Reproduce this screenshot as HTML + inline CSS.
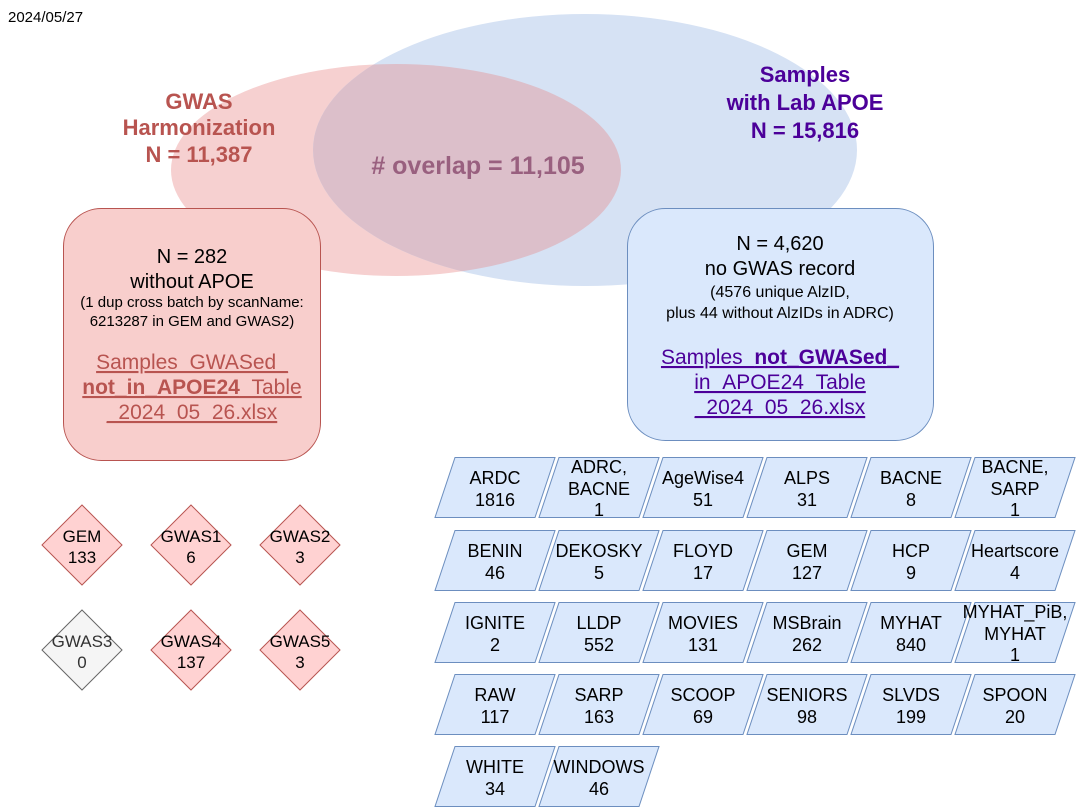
<!DOCTYPE html>
<html><head><meta charset="utf-8"><style>
html,body{margin:0;padding:0;background:#fff;}
svg{display:block;font-family:"Liberation Sans",Arial,sans-serif;}
</style></head><body>
<svg width="1076" height="807" viewBox="0 0 1076 807" xmlns="http://www.w3.org/2000/svg">
<defs>
<clipPath id="pc"><ellipse cx="396" cy="170" rx="225" ry="106"/></clipPath>
</defs>
<text x="8" y="22" font-size="15">2024/05/27</text>
<ellipse cx="396" cy="170" rx="225" ry="106" fill="#f6d0d0"/>
<ellipse cx="585" cy="150" rx="272" ry="136" fill="#d6e2f4"/>
<ellipse cx="585" cy="150" rx="272" ry="136" fill="#dcbfca" clip-path="url(#pc)"/>
<g font-weight="bold" text-anchor="middle">
<g font-size="22" fill="#b85450">
<text x="199" y="109">GWAS</text>
<text x="199" y="135">Harmonization</text>
<text x="199" y="162">N = 11,387</text>
</g>
<g font-size="22" fill="#4c0099">
<text x="805" y="82">Samples</text>
<text x="805" y="110">with Lab APOE</text>
<text x="805" y="138">N = 15,816</text>
</g>
<text x="478" y="174" fill="#99607f" font-size="25">#  overlap = 11,105</text>
</g>
<rect x="63.5" y="208.5" width="257" height="252" rx="38" fill="#f8cecc" stroke="#b85450"/>
<g text-anchor="middle">
<text x="192" y="263" font-size="20">N = 282</text>
<text x="192" y="288" font-size="20">without APOE</text>
<text x="192" y="307" font-size="15">(1 dup cross batch by scanName:</text>
<text x="192" y="326" font-size="15">6213287 in GEM and GWAS2)</text>
<g fill="#b85450" font-size="21" text-decoration="underline">
<text x="192" y="369">Samples_GWASed_</text>
<text x="192" y="394"><tspan font-weight="bold">not_in_APOE24</tspan>_Table</text>
<text x="192" y="419">_2024_05_26.xlsx</text>
</g>
</g>
<rect x="627.5" y="208.5" width="306" height="232" rx="38" fill="#dae8fc" stroke="#6c8ebf"/>
<g text-anchor="middle">
<text x="780" y="250" font-size="20">N = 4,620</text>
<text x="780" y="275" font-size="20">no GWAS record</text>
<text x="780" y="297" font-size="16">(4576 unique AlzID,</text>
<text x="780" y="318" font-size="16">plus 44 without AlzIDs in ADRC)</text>
<g fill="#4c0099" font-size="21" text-decoration="underline">
<text x="780" y="364">Samples_<tspan font-weight="bold">not_GWASed_</tspan></text>
<text x="780" y="389">in_APOE24_Table</text>
<text x="780" y="414">_2024_05_26.xlsx</text>
</g>
</g>
<g font-size="17" text-anchor="middle">
<polygon points="82,505 122,545 82,585 42,545" fill="#ffd2d2" stroke="#b85450"/>
<text x="82" y="542">GEM</text><text x="82" y="563">133</text>
<polygon points="191,505 231,545 191,585 151,545" fill="#ffd2d2" stroke="#b85450"/>
<text x="191" y="542">GWAS1</text><text x="191" y="563">6</text>
<polygon points="300,505 340,545 300,585 260,545" fill="#ffd2d2" stroke="#b85450"/>
<text x="300" y="542">GWAS2</text><text x="300" y="563">3</text>
<polygon points="82,610 122,650 82,690 42,650" fill="#f5f5f5" stroke="#666"/>
<text x="82" y="647" fill="#333">GWAS3</text><text x="82" y="668" fill="#333">0</text>
<polygon points="191,610 231,650 191,690 151,650" fill="#ffd2d2" stroke="#b85450"/>
<text x="191" y="647">GWAS4</text><text x="191" y="668">137</text>
<polygon points="300,610 340,650 300,690 260,650" fill="#ffd2d2" stroke="#b85450"/>
<text x="300" y="647">GWAS5</text><text x="300" y="668">3</text>
</g>
<g font-size="18" text-anchor="middle" fill="#000">
<g fill="#dae8fc" stroke="#6c8ebf">
<polygon points="455,457.5 555,457.5 535,517.5 435,517.5"/>
<polygon points="559,457.5 659,457.5 639,517.5 539,517.5"/>
<polygon points="663,457.5 763,457.5 743,517.5 643,517.5"/>
<polygon points="767,457.5 867,457.5 847,517.5 747,517.5"/>
<polygon points="871,457.5 971,457.5 951,517.5 851,517.5"/>
<polygon points="975,457.5 1075,457.5 1055,517.5 955,517.5"/>
<polygon points="455,530.5 555,530.5 535,590.5 435,590.5"/>
<polygon points="559,530.5 659,530.5 639,590.5 539,590.5"/>
<polygon points="663,530.5 763,530.5 743,590.5 643,590.5"/>
<polygon points="767,530.5 867,530.5 847,590.5 747,590.5"/>
<polygon points="871,530.5 971,530.5 951,590.5 851,590.5"/>
<polygon points="975,530.5 1075,530.5 1055,590.5 955,590.5"/>
<polygon points="455,602.5 555,602.5 535,662.5 435,662.5"/>
<polygon points="559,602.5 659,602.5 639,662.5 539,662.5"/>
<polygon points="663,602.5 763,602.5 743,662.5 643,662.5"/>
<polygon points="767,602.5 867,602.5 847,662.5 747,662.5"/>
<polygon points="871,602.5 971,602.5 951,662.5 851,662.5"/>
<polygon points="975,602.5 1075,602.5 1055,662.5 955,662.5"/>
<polygon points="455,674.5 555,674.5 535,734.5 435,734.5"/>
<polygon points="559,674.5 659,674.5 639,734.5 539,734.5"/>
<polygon points="663,674.5 763,674.5 743,734.5 643,734.5"/>
<polygon points="767,674.5 867,674.5 847,734.5 747,734.5"/>
<polygon points="871,674.5 971,674.5 951,734.5 851,734.5"/>
<polygon points="975,674.5 1075,674.5 1055,734.5 955,734.5"/>
<polygon points="455,746.5 555,746.5 535,806.5 435,806.5"/>
<polygon points="559,746.5 659,746.5 639,806.5 539,806.5"/>
</g>
<text x="495" y="484">ARDC</text><text x="495" y="506">1816</text>
<text x="599" y="473">ADRC,</text><text x="599" y="495">BACNE</text><text x="599" y="516">1</text>
<text x="703" y="484">AgeWise4</text><text x="703" y="506">51</text>
<text x="807" y="484">ALPS</text><text x="807" y="506">31</text>
<text x="911" y="484">BACNE</text><text x="911" y="506">8</text>
<text x="1015" y="473">BACNE,</text><text x="1015" y="495">SARP</text><text x="1015" y="516">1</text>

<text x="495" y="557">BENIN</text><text x="495" y="579">46</text>
<text x="599" y="557">DEKOSKY</text><text x="599" y="579">5</text>
<text x="703" y="557">FLOYD</text><text x="703" y="579">17</text>
<text x="807" y="557">GEM</text><text x="807" y="579">127</text>
<text x="911" y="557">HCP</text><text x="911" y="579">9</text>
<text x="1015" y="557">Heartscore</text><text x="1015" y="579">4</text>

<text x="495" y="629">IGNITE</text><text x="495" y="651">2</text>
<text x="599" y="629">LLDP</text><text x="599" y="651">552</text>
<text x="703" y="629">MOVIES</text><text x="703" y="651">131</text>
<text x="807" y="629">MSBrain</text><text x="807" y="651">262</text>
<text x="911" y="629">MYHAT</text><text x="911" y="651">840</text>
<text x="1015" y="618">MYHAT_PiB,</text><text x="1015" y="640">MYHAT</text><text x="1015" y="661">1</text>

<text x="495" y="701">RAW</text><text x="495" y="723">117</text>
<text x="599" y="701">SARP</text><text x="599" y="723">163</text>
<text x="703" y="701">SCOOP</text><text x="703" y="723">69</text>
<text x="807" y="701">SENIORS</text><text x="807" y="723">98</text>
<text x="911" y="701">SLVDS</text><text x="911" y="723">199</text>
<text x="1015" y="701">SPOON</text><text x="1015" y="723">20</text>

<text x="495" y="773">WHITE</text><text x="495" y="795">34</text>
<text x="599" y="773">WINDOWS</text><text x="599" y="795">46</text>
</g>
</svg>
</body></html>
